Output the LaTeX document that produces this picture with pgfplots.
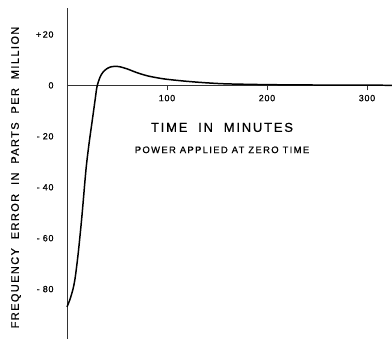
\documentclass[border=0pt]{standalone}
\usepackage{fontspec}
\setmainfont{Liberation Sans}
\newfontfamily\spaced[LetterSpace=14,FakeBold=0.6]{Liberation Sans}
\newfontfamily\spacedy[LetterSpace=13,FakeBold=0.6]{Liberation Sans}
\newfontfamily\spacedt[LetterSpace=8,FakeBold=0.8]{Liberation Sans}
\usepackage{pgfplots}
\pgfplotsset{compat=1.18}
\begin{document}
\begin{tikzpicture}
\begin{axis}[
  scale only axis, width=325bp, height=331bp,
  xmin=0, xmax=325, ymin=-99.6, ymax=30.4,
  axis y line=left, axis x line=middle,
  axis line style={-, line width=0.8pt, black!80},
  xtick={100,200,300}, ytick={-80,-60,-40,-20,0,20},
  yticklabels={{-\,\,80},{-\,\,60},{-\,\,40},{-\,\,20},{0},{+\,20}},
  xticklabels={100,200,300},
  /pgf/number format/assume math mode=true,
  tick label style={font=\fontsize{9}{10}\selectfont\spacedt},
  x tick label style={yshift=-1bp},
  y tick label style={xshift=-5bp},
  xtick style={black!80, line width=0.6pt},
  ytick style={draw=none},
  major tick length=5bp,
  tick align=outside,
  clip=false,
]
\addplot[black, line width=1.5pt, smooth, tension=0.5] coordinates {
 (0,-87) (3,-84) (6,-80) (8,-76) (10,-70) (12,-63) (15,-51) (19,-33)
 (22,-23) (25,-14.5) (28,-6) (30,-0.5) (33,3.2) (36,5.2) (40,6.6) (44,7.3)
 (48,7.5) (53,7.3) (60,6.5) (70,5) (80,3.8) (90,3) (100,2.4) (120,1.6)
 (140,1) (160,0.6) (200,0.3) (250,0.15) (325,0.05)
};
\coordinate (BL) at (rel axis cs:0,0);
\coordinate (TR) at (rel axis cs:1,1);
\node[font=\fontsize{13}{14}\selectfont\spaced] at (axis cs:155,-16.5) {TIME\ \ IN\ \ MINUTES};
\node[font=\fontsize{9.5}{10}\selectfont\spaced] at (axis cs:155,-25.3) {POWER APPLIED AT ZERO TIME};
\node[rotate=90, font=\fontsize{11}{12}\selectfont\spacedy] at ([xshift=-51bp,yshift=-4bp]rel axis cs:0,0.5) {FREQUENCY\ \ ERROR\ \ IN\ \ PARTS\ \ PER\ \ MILLION};
\end{axis}
\pgfresetboundingbox
\path ([xshift=-67bp]BL) rectangle ([yshift=8bp]TR);
\end{tikzpicture}
\end{document}
